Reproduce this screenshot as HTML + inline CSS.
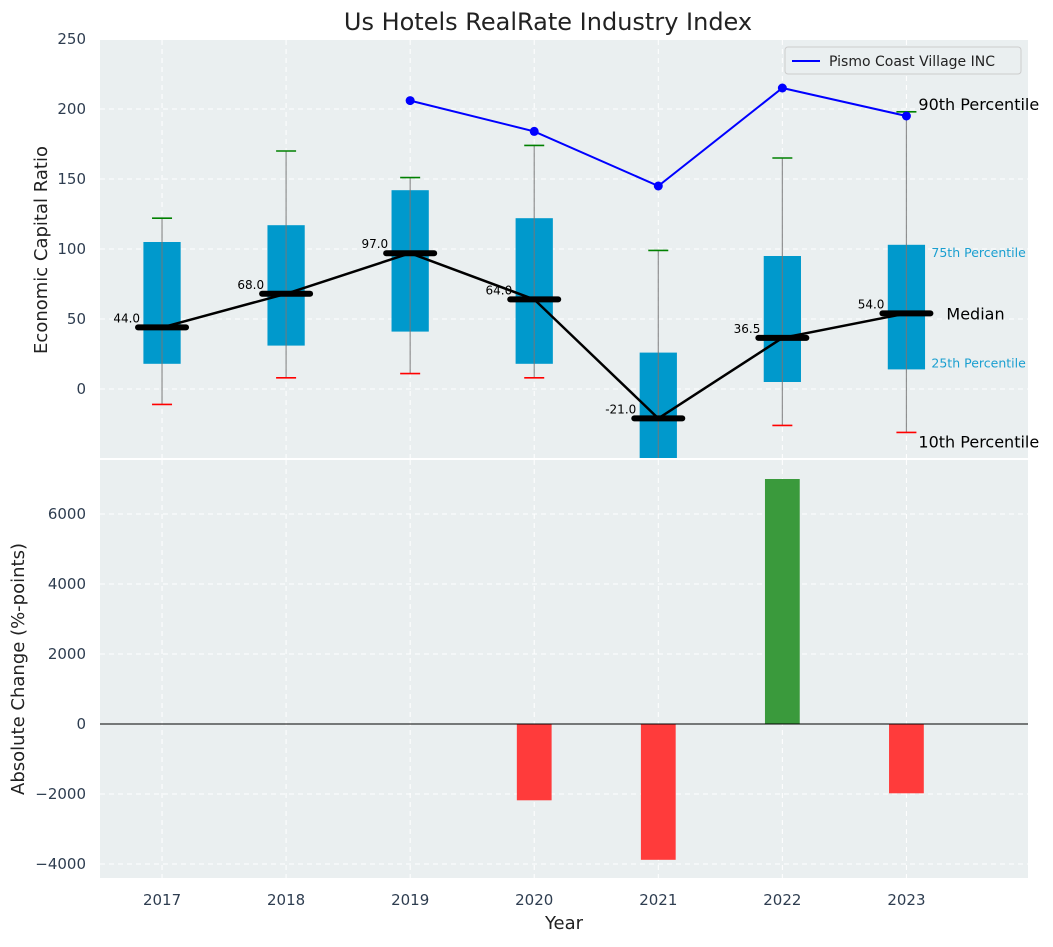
<!DOCTYPE html>
<html><head><meta charset="utf-8"><style>
body{margin:0;background:#fff;font-family:"Liberation Sans","DejaVu Sans",sans-serif}
svg text{font-family:"DejaVu Sans","Liberation Sans",sans-serif}
</style></head><body>
<svg id="c" width="1053" height="942" xmlns="http://www.w3.org/2000/svg"></svg>
<script>
const years=["2017","2018","2019","2020","2021","2022","2023"];
const p10=[-11,8,11,8,-60,-26,-31];
const p25=[18,31,41,18,-60,5,14];
const median=[44,68,97,64,-21,36.5,54];
const p75=[105,117,142,122,26,95,103];
const p90=[122,170,151,174,99,165,198];
const companyYears=[2,3,4,5,6];
const companyValues=[206,184,145,215,195];
const changeYears=[3,4,5,6];
const changeValues=[-2180,-3880,7000,-1980];
const topTicks=[0,50,100,150,200,250];
const botTicks=[-4000,-2000,0,2000,4000,6000];

const svg=document.getElementById('c');
const NS='http://www.w3.org/2000/svg';
function mk(t,a,txt,parent){const e=document.createElementNS(NS,t);for(const k in a)e.setAttribute(k,a[k]);if(txt!=null)e.textContent=txt;(parent||svg).appendChild(e);return e;}
const X0=100,X1=1028;
const x=i=>X0+(i+0.5)/7.48*(X1-X0);
const yT=v=>389-v*1.4;
const yB=v=>724-v*0.035;

let e=mk('rect',{x:X0,y:40,width:X1-X0,height:418,fill:'#eaeff0'});

e=mk('rect',{x:X0,y:460,width:X1-X0,height:418,fill:'#eaeff0'});

const clipD=mk('defs',{});
const cp=mk('clipPath',{id:'ct'},null,clipD);
mk('rect',{x:X0,y:40,width:X1-X0,height:418},null,cp);

years.forEach((y,i)=>{
 mk('line',{x1:x(i),x2:x(i),y1:40,y2:458,stroke:'#fff','stroke-dasharray':'5,4','stroke-width':1});
 mk('line',{x1:x(i),x2:x(i),y1:460,y2:878,stroke:'#fff','stroke-dasharray':'5,4','stroke-width':1});
 e=mk('text',{x:x(i),y:905,'text-anchor':'middle','font-size':15,fill:'#2e3d50'},y);
 
});
topTicks.forEach(t=>{
 mk('line',{x1:X0,x2:X1,y1:yT(t),y2:yT(t),stroke:'#fff','stroke-dasharray':'5,4'});
 e=mk('text',{x:86,y:yT(t)+5,'text-anchor':'end','font-size':15,fill:'#2e3d50'},t);
 
});
botTicks.forEach(t=>{
 mk('line',{x1:X0,x2:X1,y1:yB(t),y2:yB(t),stroke:'#fff','stroke-dasharray':'5,4'});
 e=mk('text',{x:86,y:yB(t)+5,'text-anchor':'end','font-size':15,fill:'#2e3d50'},t<0?'\u2212'+(-t):t);
 
});

const g=mk('g',{'clip-path':'url(#ct)'});
const bw=0.3*124.2;
years.forEach((y,i)=>{
 e=mk('rect',{x:x(i)-bw/2,y:yT(p75[i]),width:bw,height:yT(p25[i])-yT(p75[i]),fill:'#0099cc'},null,g);
 
 mk('line',{x1:x(i),x2:x(i),y1:yT(p90[i]),y2:yT(p10[i]),stroke:'#777',opacity:0.8,'stroke-width':1.2},null,g);
 e=mk('line',{x1:x(i)-10,x2:x(i)+10,y1:yT(p90[i]),y2:yT(p90[i]),stroke:'green','stroke-width':1.6},null,g);
 
 e=mk('line',{x1:x(i)-10,x2:x(i)+10,y1:yT(p10[i]),y2:yT(p10[i]),stroke:'red','stroke-width':1.6},null,g);
 
});
let pts=median.map((m,i)=>x(i)+','+yT(m)).join(' ');
e=mk('polyline',{points:pts,fill:'none',stroke:'#000','stroke-width':2.5},null,g);

median.forEach((m,i)=>{
 e=mk('line',{x1:x(i)-24,x2:x(i)+24,y1:yT(m),y2:yT(m),stroke:'#000','stroke-width':6,'stroke-linecap':'round'},null,g);
 
 e=mk('text',{x:x(i)-22,y:yT(m)-5,'text-anchor':'end','font-size':12,fill:'#000'},m.toFixed(1),g);
 
});
pts=companyYears.map((c,k)=>x(c)+','+yT(companyValues[k])).join(' ');
e=mk('polyline',{points:pts,fill:'none',stroke:'#0000ff','stroke-width':2},null,g);

companyYears.forEach((c,k)=>{
 e=mk('circle',{cx:x(c),cy:yT(companyValues[k]),r:4.5,fill:'#0000ff'},null,g);
 
});
const L=x(6);
[[L+12,yT(p90[6])-2,'90th Percentile',16,'#000'],[L+25,yT(p75[6])+12,'75th Percentile',12.5,'#1a9fd0'],[L+40,yT(median[6])+6,'Median',16,'#000'],[L+25,yT(p25[6])-2,'25th Percentile',12.5,'#1a9fd0'],[L+12,yT(p10[6])+15,'10th Percentile',16,'#000']].forEach(a=>{
 e=mk('text',{x:a[0],y:a[1],'font-size':a[3],fill:a[4]},a[2]);
 
});
e=mk('g',{});
mk('rect',{x:785,y:47,width:236,height:27,rx:3,fill:'#eaeff0',stroke:'#ccc'},null,e);
mk('line',{x1:792,x2:820,y1:61,y2:61,stroke:'#0000ff','stroke-width':2},null,e);
mk('text',{x:829,y:66,'font-size':14,fill:'#222'},'Pismo Coast Village INC',e);

changeYears.forEach((c,k)=>{
 const v=changeValues[k];const w=0.28*124.2;
 e=mk('rect',{x:x(c)-w/2,y:Math.min(yB(0),yB(v)),width:w,height:Math.abs(yB(v)-yB(0)),fill:v>=0?'#3a9a3c':'#ff3b3b'});
 
});
mk('line',{x1:X0,x2:X1,y1:yB(0),y2:yB(0),stroke:'#000','stroke-width':1});

e=mk('text',{x:548,y:30,'text-anchor':'middle','font-size':24,fill:'#222'},'Us Hotels RealRate Industry Index');

e=mk('text',{x:564,y:929,'text-anchor':'middle','font-size':18,fill:'#222'},'Year');

e=mk('text',{x:47,y:250,'text-anchor':'middle','font-size':18,fill:'#222',transform:'rotate(-90 47 250)'},'Economic Capital Ratio');

e=mk('text',{x:24,y:669,'text-anchor':'middle','font-size':18,fill:'#222',transform:'rotate(-90 24 669)'},'Absolute Change (%-points)');

</script>
</body></html>
